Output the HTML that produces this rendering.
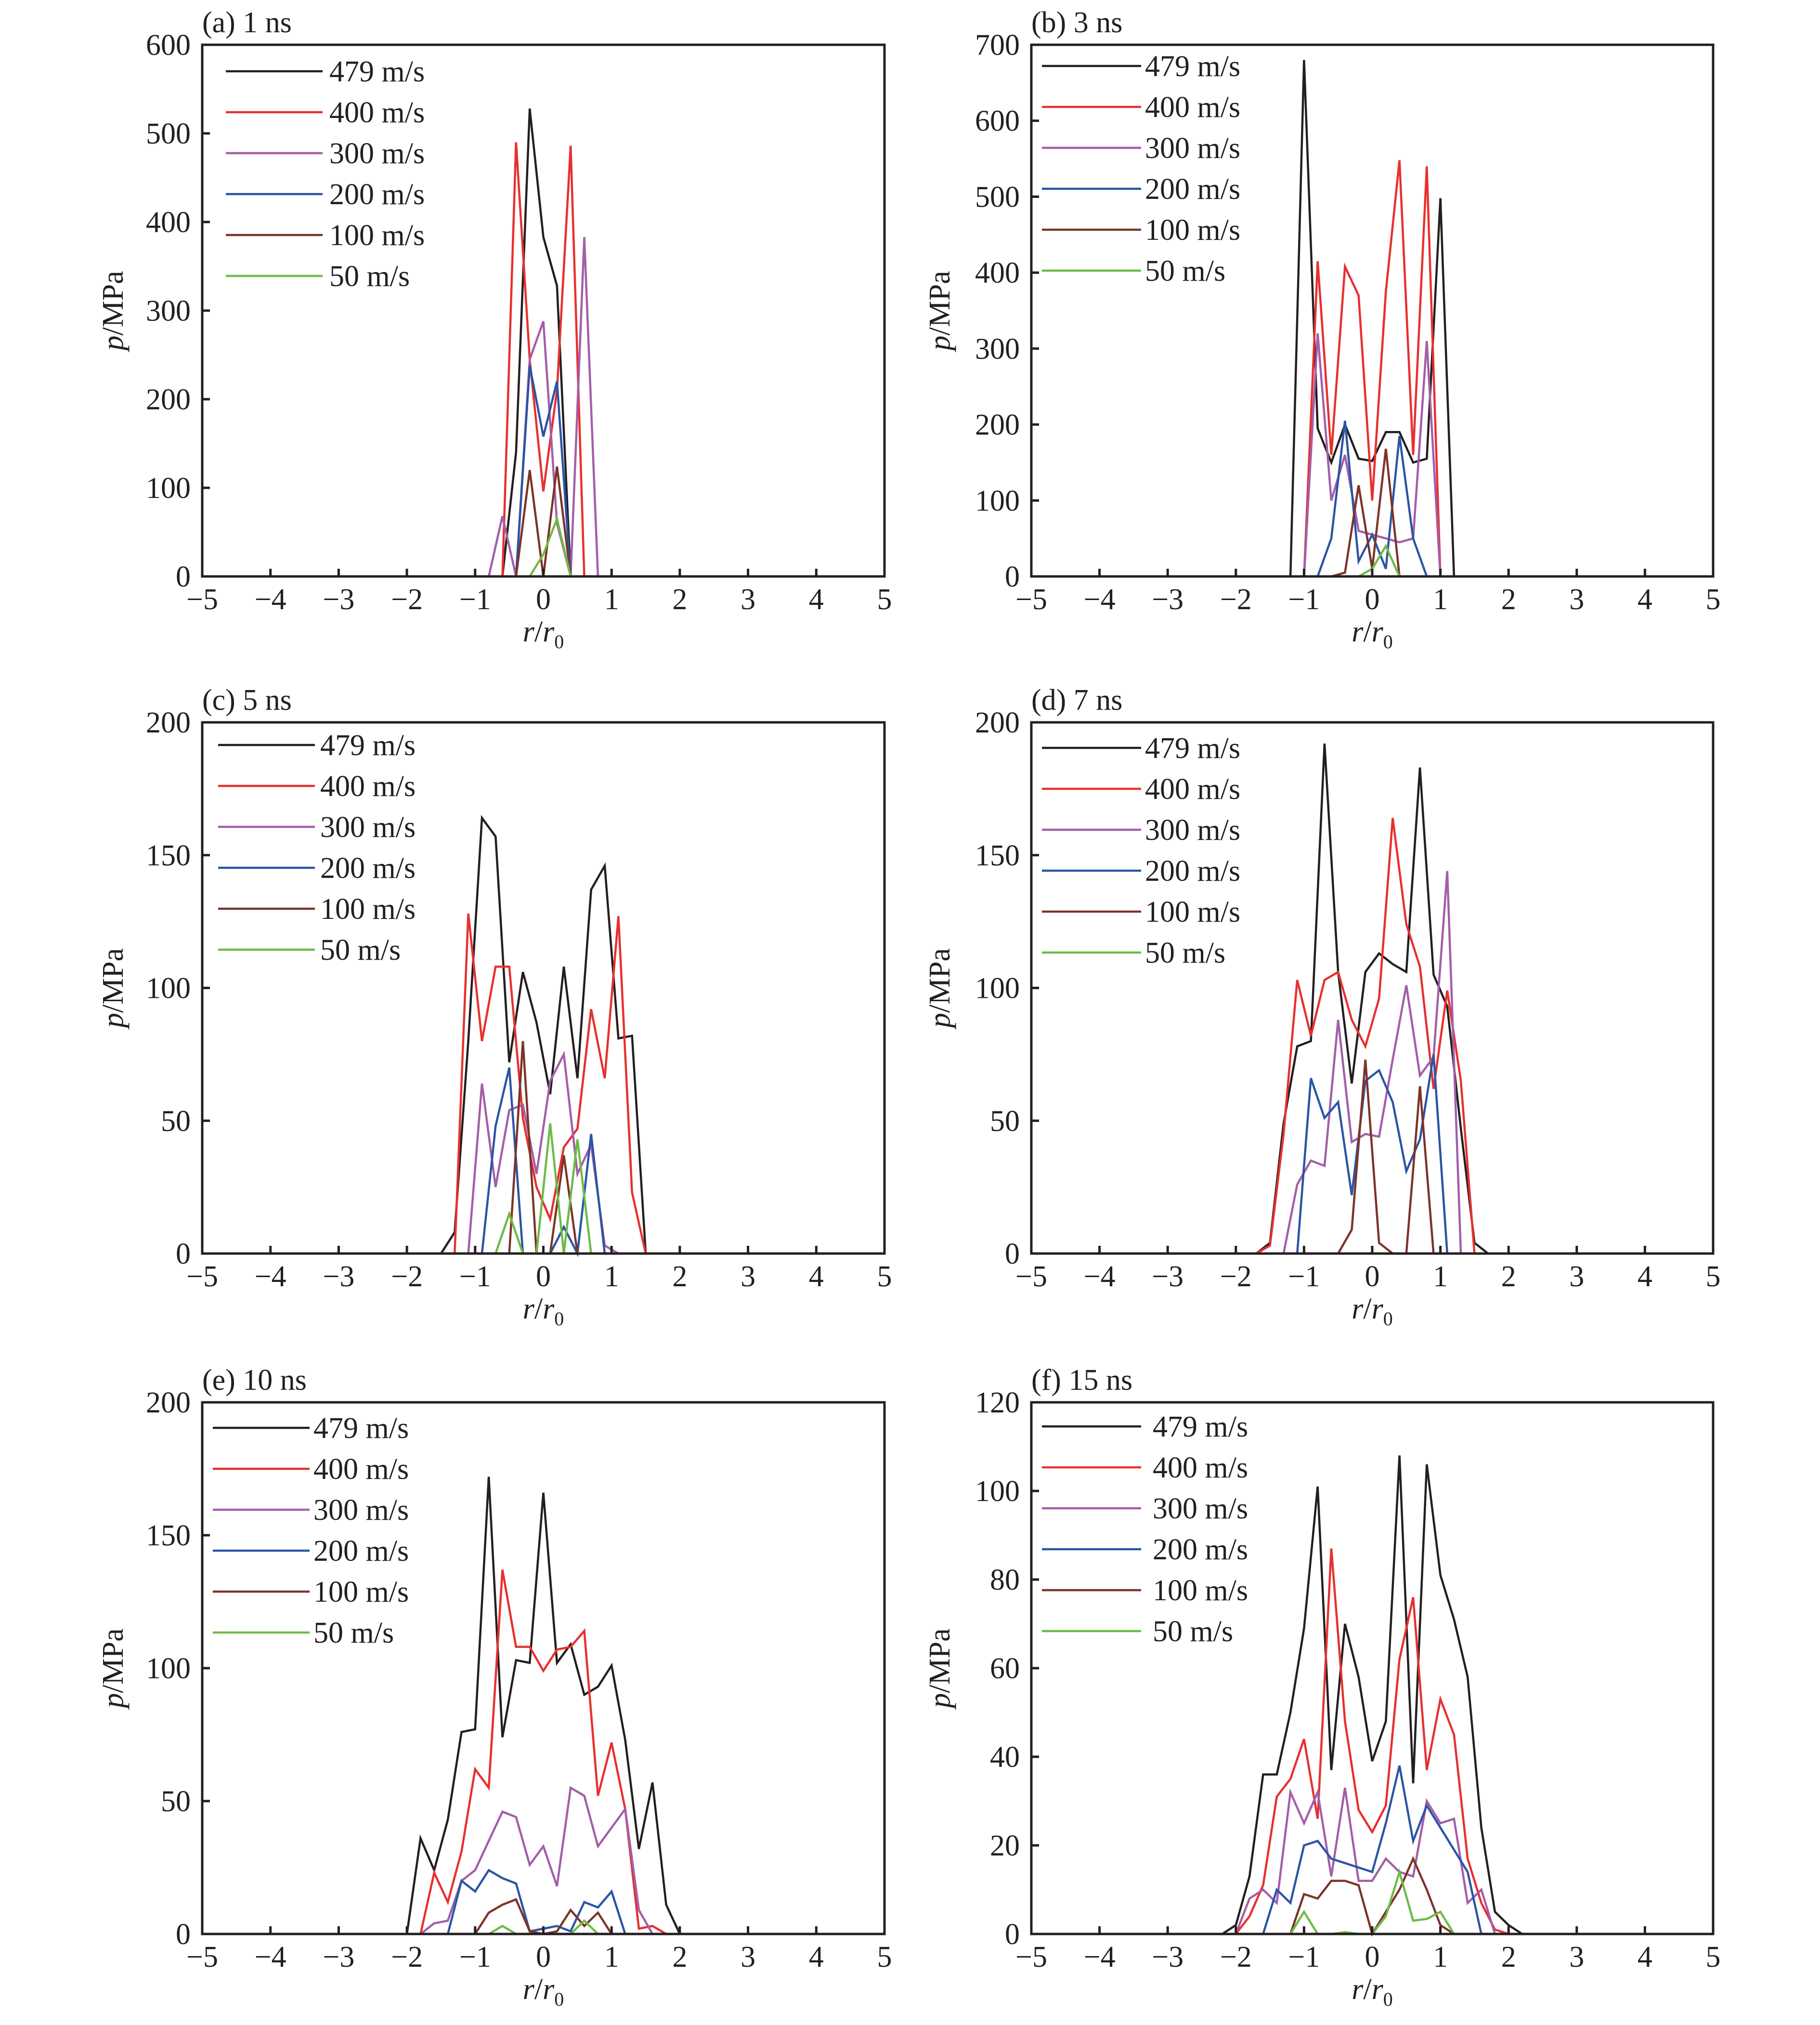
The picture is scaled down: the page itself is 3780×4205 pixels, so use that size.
<!DOCTYPE html>
<html><head><meta charset="utf-8"><style>
html,body{margin:0;padding:0;background:#fff;}
svg{display:block;font-family:"Liberation Serif","Times New Roman",serif;}
</style></head><body>
<svg id="fig" width="3780" height="4205" viewBox="0 0 3780 4205" xmlns="http://www.w3.org/2000/svg"></svg>
<script>
// ---- shared ----
const seriesLabels = ["479 m/s","400 m/s","300 m/s","200 m/s","100 m/s","50 m/s"];
const seriesKeys = ["479","400","300","200","100","50"];
const xTicks = [-5,-4,-3,-2,-1,0,1,2,3,4,5];

// ---- (a) 1 ns ----
const aTicks = [0,100,200,300,400,500,600];
const a479x = [-0.6,-0.4,-0.2,0,0.2,0.4];           const a479y = [0,140,528,383,328,0];
const a400x = [-0.6,-0.4,-0.2,0,0.2,0.4,0.6];       const a400y = [0,490,245,96,210,486,0];
const a300x = [-0.8,-0.6,-0.4,-0.2,0,0.2,0.4,0.6,0.8]; const a300y = [0,68,0,245,288,60,0,383,0];
const a200x = [-0.4,-0.2,0,0.2,0.4];                const a200y = [0,238,158,220,0];
const a100x = [-0.4,-0.2,0,0.2,0.4];                const a100y = [0,120,0,124,0];
const a50x  = [-0.2,0,0.2,0.4];                     const a50y  = [0,25,65,0];

// ---- (b) 3 ns ----
const bTicks = [0,100,200,300,400,500,600,700];
const b479x = [-1.2,-1,-0.8,-0.6,-0.4,-0.2,0,0.2,0.4,0.6,0.8,1,1.2]; const b479y = [0,680,195,150,200,155,152,190,190,150,155,498,0];
const b400x = [-1,-0.8,-0.6,-0.4,-0.2,0,0.2,0.4,0.6,0.8,1];          const b400y = [0,415,160,408,370,100,375,548,160,540,0];
const b300x = [-1,-0.8,-0.6,-0.4,-0.2,0,0.2,0.4,0.6,0.8,1];          const b300y = [0,320,100,160,60,55,50,45,50,310,0];
const b200x = [-0.8,-0.6,-0.4,-0.2,0,0.2,0.4,0.6,0.8];               const b200y = [0,50,205,20,55,10,185,50,0];
const b100x = [-0.6,-0.4,-0.2,0,0.2,0.4];                            const b100y = [0,5,120,10,168,0];
const b50x  = [-0.2,0,0.2,0.4];                                      const b50y  = [0,10,40,0];

// ---- (c) 5 ns ----
const cTicks = [0,50,100,150,200];
const c479x = [-1.5,-1.3,-1.1,-0.9,-0.7,-0.5,-0.3,-0.1,0.1,0.3,0.5,0.7,0.9,1.1,1.3,1.5]; const c479y = [0,8,80,164,157,72,106,87,60,108,66,137,146,81,82,0];
const c400x = [-1.3,-1.1,-0.9,-0.7,-0.5,-0.3,-0.1,0.1,0.3,0.5,0.7,0.9,1.1,1.3,1.5];      const c400y = [0,128,80,108,108,51,25,13,40,47,92,66,127,23,0];
const c300x = [-1.1,-0.9,-0.7,-0.5,-0.3,-0.1,0.1,0.3,0.5,0.7,0.9,1.1];                   const c300y = [0,64,25,54,56,30,65,75,30,41,3,0];
const c200x = [-0.9,-0.7,-0.5,-0.3,-0.1,0.1,0.3,0.5,0.7,0.9];                            const c200y = [0,48,70,0,0,0,10,0,45,0];
const c100x = [-0.5,-0.3,-0.1,0.1,0.3,0.5];                                              const c100y = [0,80,0,0,37,0];
const c50x  = [-0.7,-0.5,-0.3,-0.1,0.1,0.3,0.5,0.7];                                     const c50y  = [0,15,0,0,49,0,43,0];

// ---- (d) 7 ns ----
const dTicks = [0,50,100,150,200];
const d479x = [-1.7,-1.5,-1.3,-1.1,-0.9,-0.7,-0.5,-0.3,-0.1,0.1,0.3,0.5,0.7,0.9,1.1,1.3,1.5,1.7]; const d479y = [0,4,49,78,80,192,106,64,106,113,109,106,183,105,93,47,4,0];
const d400x = [-1.7,-1.5,-1.3,-1.1,-0.9,-0.7,-0.5,-0.3,-0.1,0.1,0.3,0.5,0.7,0.9,1.1,1.3,1.5];      const d400y = [0,3,45,103,82,103,106,88,78,96,164,124,108,62,99,65,0];
const d300x = [-1.3,-1.1,-0.9,-0.7,-0.5,-0.3,-0.1,0.1,0.3,0.5,0.7,0.9,1.1,1.3];                    const d300y = [0,26,35,33,88,42,45,44,73,101,67,74,144,0];
const d200x = [-1.1,-0.9,-0.7,-0.5,-0.3,-0.1,0.1,0.3,0.5,0.7,0.9,1.1];                             const d200y = [0,66,51,57,22,65,69,57,31,43,75,0];
const d100x = [-0.5,-0.3,-0.1,0.1,0.3,0.5,0.7,0.9];                                                const d100y = [0,9,73,4,0,0,63,0];
const d50x  = [-5,5];                                                                              const d50y  = [0,0];

// ---- (e) 10 ns ----
const eTicks = [0,50,100,150,200];
const e479x = [-2,-1.8,-1.6,-1.4,-1.2,-1,-0.8,-0.6,-0.4,-0.2,0,0.2,0.4,0.6,0.8,1,1.2,1.4,1.6,1.8,2]; const e479y = [0,36,24,43,76,77,172,74,103,102,166,102,109,90,93,101,73,32,57,11,0];
const e400x = [-1.8,-1.6,-1.4,-1.2,-1,-0.8,-0.6,-0.4,-0.2,0,0.2,0.4,0.6,0.8,1,1.2,1.4,1.6,1.8];     const e400y = [0,23,12,31,62,55,137,108,108,99,107,108,114,52,72,47,2,3,0];
const e300x = [-1.8,-1.6,-1.4,-1.2,-1,-0.8,-0.6,-0.4,-0.2,0,0.2,0.4,0.6,0.8,1,1.2,1.4,1.6];         const e300y = [0,4,5,20,24,35,46,44,26,33,18,55,52,33,40,47,9,0];
const e200x = [-1.4,-1.2,-1,-0.8,-0.6,-0.4,-0.2,0,0.2,0.4,0.6,0.8,1,1.2];                          const e200y = [0,20,16,24,21,19,1,2,3,1,12,10,16,0];
const e100x = [-1,-0.8,-0.6,-0.4,-0.2,0,0.2,0.4,0.6,0.8,1];                                        const e100y = [0,8,11,13,1,0,1,9,3,8,0];
const e50x  = [-0.8,-0.6,-0.4,0.4,0.6,0.8];                                                        const e50y  = [0,3,0,0,5,0];

// ---- (f) 15 ns ----
const fTicks = [0,20,40,60,80,100,120];
const f479x = [-2.2,-2,-1.8,-1.6,-1.4,-1.2,-1,-0.8,-0.6,-0.4,-0.2,0,0.2,0.4,0.6,0.8,1,1.2,1.4,1.6,1.8,2,2.2]; const f479y = [0,2,13,36,36,50,69,101,37,70,58,39,48,108,34,106,81,71,58,24,5,2,0];
const f400x = [-2,-1.8,-1.6,-1.4,-1.2,-1,-0.8,-0.6,-0.4,-0.2,0,0.2,0.4,0.6,0.8,1,1.2,1.4,1.6,1.8,2];         const f400y = [0,4,11,31,35,44,26,87,48,28,23,29,62,76,37,53,45,17,7,1,0];
const f300x = [-2,-1.8,-1.6,-1.4,-1.2,-1,-0.8,-0.6,-0.4,-0.2,0,0.2,0.4,0.6,0.8,1,1.2,1.4,1.6,1.8];          const f300y = [0,8,10,7,32,25,32,13,33,12,12,17,14,13,30,25,26,7,10,0];
const f200x = [-1.6,-1.4,-1.2,-1,-0.8,-0.6,-0.4,-0.2,0,0.2,0.4,0.6,0.8,1,1.2,1.4,1.6];                      const f200y = [0,10,7,20,21,17,16,15,14,25,38,21,29,24,19,14,0];
const f100x = [-1.2,-1,-0.8,-0.6,-0.4,-0.2,0,0.2,0.4,0.6,0.8,1,1.2];                                        const f100y = [0,9,8,12,12,11,0,5,10,17,10,2,0];
const f50x  = [-1.2,-1,-0.8,-0.6,-0.4,-0.2,0,0.2,0.4,0.6,0.8,1,1.2];                                        const f50y  = [0,5,0,0,0.4,0,0,4,14,3,3.4,5,0];

const colors = ["#231f20","#e8302e","#a35ea9","#2a55a5","#7c3428","#6dbb45"];
const NS = "http://www.w3.org/2000/svg";
const svg = document.getElementById("fig");

function mk(tag, attrs, parent){
  const el = document.createElementNS(NS, tag);
  for (const k in attrs) el.setAttribute(k, attrs[k]);
  (parent||svg).appendChild(el);
  return el;
}

const panels = [
  {id:"a", title:"(a) 1 ns", L:420, R:1837, T:93, B:1197, ticks:aTicks,
   xs:[a479x,a400x,a300x,a200x,a100x,a50x], ys:[a479y,a400y,a300y,a200y,a100y,a50y],
   legX1:469, legX2:670, legTx:684, legY:148, yTitleX:255},
  {id:"b", title:"(b) 3 ns", L:2142, R:3558, T:93, B:1197, ticks:bTicks,
   xs:[b479x,b400x,b300x,b200x,b100x,b50x], ys:[b479y,b400y,b300y,b200y,b100y,b50y],
   legX1:2164, legX2:2370, legTx:2378, legY:137, yTitleX:1972},
  {id:"c", title:"(c) 5 ns", L:420, R:1837, T:1500, B:2603, ticks:cTicks,
   xs:[c479x,c400x,c300x,c200x,c100x,c50x], ys:[c479y,c400y,c300y,c200y,c100y,c50y],
   legX1:453, legX2:654, legTx:665, legY:1547, yTitleX:255},
  {id:"d", title:"(d) 7 ns", L:2142, R:3558, T:1500, B:2603, ticks:dTicks,
   xs:[d479x,d400x,d300x,d200x,d100x,d50x], ys:[d479y,d400y,d300y,d200y,d100y,d50y],
   legX1:2164, legX2:2370, legTx:2378, legY:1553, yTitleX:1972},
  {id:"e", title:"(e) 10 ns", L:420, R:1837, T:2912, B:4016, ticks:eTicks,
   xs:[e479x,e400x,e300x,e200x,e100x,e50x], ys:[e479y,e400y,e300y,e200y,e100y,e50y],
   legX1:442, legX2:643, legTx:651, legY:2965, yTitleX:255},
  {id:"f", title:"(f) 15 ns", L:2142, R:3558, T:2912, B:4016, ticks:fTicks,
   xs:[f479x,f400x,f300x,f200x,f100x,f50x], ys:[f479y,f400y,f300y,f200y,f100y,f50y],
   legX1:2164, legX2:2370, legTx:2394, legY:2962, yTitleX:1972}
];

panels.forEach(function(p){
  const g = mk("g", {});
  
  
  const ymax = p.ticks[p.ticks.length-1];
  const sx = v => p.L + (v + 5) / 10 * (p.R - p.L);
  const sy = v => p.B - v / ymax * (p.B - p.T);

  for (let s = 0; s < 6; s++){
    const xs = p.xs[s], ys = p.ys[s];
    let pts = [];
    if (xs[0] > -5) pts.push([sx(-5), sy(0)]);
    for (let i = 0; i < xs.length; i++) pts.push([sx(xs[i]), sy(ys[i])]);
    if (xs[xs.length-1] < 5) pts.push([sx(5), sy(0)]);
    const pl = mk("polyline", {points: pts.map(q => q[0].toFixed(1)+","+q[1].toFixed(1)).join(" "),
      fill:"none", stroke:colors[s], "stroke-width":4.5, "stroke-linejoin":"miter"}, g);
    
    
  }

  const box = mk("rect", {x:p.L, y:p.T, width:p.R-p.L, height:p.B-p.T, fill:"none", stroke:"#231f20", "stroke-width":5}, g);
  
  

  xTicks.forEach(function(t){
    const x = sx(t);
    const tk = mk("line", {x1:x, x2:x, y1:p.B, y2:p.B-16, stroke:"#231f20", "stroke-width":5}, g);
    
    
    const lb = mk("text", {x:x, y:p.B+68, "font-size":62, "text-anchor":"middle", fill:"#231f20"}, g);
    lb.textContent = (t < 0 ? "\u2212" + (-t) : String(t));
    
    
  });
  p.ticks.forEach(function(t){
    const y = sy(t);
    const tk = mk("line", {x1:p.L, x2:p.L+16, y1:y, y2:y, stroke:"#231f20", "stroke-width":5}, g);
    
    
    const lb = mk("text", {x:p.L-24, y:y+21, "font-size":62, "text-anchor":"end", fill:"#231f20"}, g);
    lb.textContent = String(t);
    
    
  });

  const tt = mk("text", {x:p.L, y:p.T-26, "font-size":62, fill:"#231f20"}, g);
  tt.textContent = p.title;
  
  

  const xt = mk("text", {x:(p.L+p.R)/2, y:p.B+135, "font-size":62, "text-anchor":"middle", fill:"#231f20"}, g);
  xt.innerHTML = '<tspan font-style="italic">r</tspan>/<tspan font-style="italic">r</tspan><tspan font-size="40" dy="14">0</tspan>';
  
  

  const cy = (p.T + p.B) / 2;
  const yt = mk("text", {x:p.yTitleX, y:cy, "font-size":62, "text-anchor":"middle", fill:"#231f20",
    transform:"rotate(-90 " + p.yTitleX + " " + cy + ")"}, g);
  yt.innerHTML = '<tspan font-style="italic">p</tspan>/MPa';
  
  

  for (let s = 0; s < 6; s++){
    const y = p.legY + s * 85;
    const ll = mk("line", {x1:p.legX1, x2:p.legX2, y1:y, y2:y, stroke:colors[s], "stroke-width":4.5}, g);
    
    
    const lt = mk("text", {x:p.legTx, y:y+21, "font-size":62, fill:"#231f20"}, g);
    lt.textContent = seriesLabels[s];
    
    
  }
});
</script>
</body></html>
